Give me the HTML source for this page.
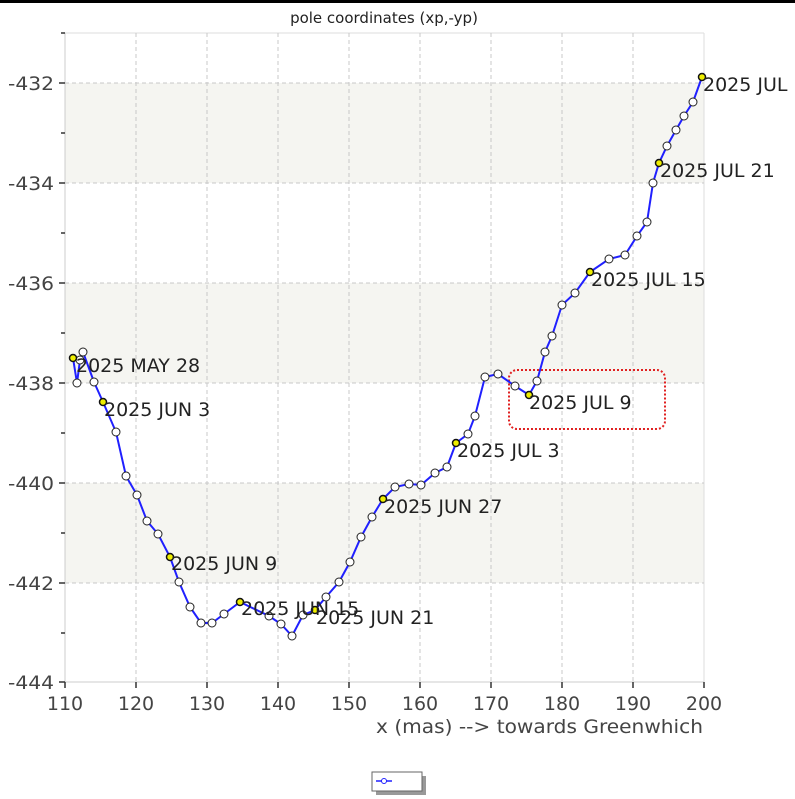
<!DOCTYPE html>
<html><head><meta charset="utf-8"><style>
html,body{margin:0;padding:0;background:#fff;}
svg{display:block;font-family:"DejaVu Sans","Liberation Sans",sans-serif;}
</style></head><body>
<svg width="795" height="799" viewBox="0 0 795 799" xmlns="http://www.w3.org/2000/svg">
<rect x="0" y="0" width="795" height="3" fill="#000"/>
<text x="384" y="23" font-size="15" text-anchor="middle" fill="#222">pole coordinates (xp,-yp)</text>
<rect x="65" y="83" width="639" height="100" fill="#f5f5f1"/>
<rect x="65" y="283" width="639" height="100" fill="#f5f5f1"/>
<rect x="65" y="483" width="639" height="100" fill="#f5f5f1"/>
<line x1="65" y1="33" x2="704" y2="33" stroke="#ddd"/>
<line x1="704" y1="33" x2="704" y2="682" stroke="#ddd"/>
<g stroke="#c8c8c8" stroke-dasharray="4,3" stroke-width="1">
<line x1="136" y1="33" x2="136" y2="682"/><line x1="207" y1="33" x2="207" y2="682"/>
<line x1="278" y1="33" x2="278" y2="682"/><line x1="349" y1="33" x2="349" y2="682"/>
<line x1="420" y1="33" x2="420" y2="682"/><line x1="491" y1="33" x2="491" y2="682"/>
<line x1="562" y1="33" x2="562" y2="682"/><line x1="633" y1="33" x2="633" y2="682"/>
<line x1="65" y1="83" x2="704" y2="83"/><line x1="65" y1="183" x2="704" y2="183"/>
<line x1="65" y1="283" x2="704" y2="283"/><line x1="65" y1="383" x2="704" y2="383"/>
<line x1="65" y1="483" x2="704" y2="483"/><line x1="65" y1="583" x2="704" y2="583"/>
</g>
<line x1="65" y1="33" x2="65" y2="682" stroke="#ccc"/>
<line x1="65" y1="682" x2="704" y2="682" stroke="#ccc"/>
<g stroke="#333" stroke-width="1.5">
<line x1="59" y1="83" x2="65" y2="83"/><line x1="59" y1="183" x2="65" y2="183"/><line x1="59" y1="283" x2="65" y2="283"/>
<line x1="59" y1="383" x2="65" y2="383"/><line x1="59" y1="483" x2="65" y2="483"/><line x1="59" y1="583" x2="65" y2="583"/><line x1="59" y1="682" x2="65" y2="682"/>
<line x1="61" y1="33" x2="65" y2="33"/><line x1="61" y1="133" x2="65" y2="133"/><line x1="61" y1="233" x2="65" y2="233"/><line x1="61" y1="333" x2="65" y2="333"/>
<line x1="61" y1="433" x2="65" y2="433"/><line x1="61" y1="533" x2="65" y2="533"/><line x1="61" y1="633" x2="65" y2="633"/>
<line x1="65" y1="682" x2="65" y2="688"/><line x1="136" y1="682" x2="136" y2="688"/><line x1="207" y1="682" x2="207" y2="688"/><line x1="278" y1="682" x2="278" y2="688"/>
<line x1="349" y1="682" x2="349" y2="688"/><line x1="420" y1="682" x2="420" y2="688"/><line x1="491" y1="682" x2="491" y2="688"/><line x1="562" y1="682" x2="562" y2="688"/>
<line x1="633" y1="682" x2="633" y2="688"/><line x1="704" y1="682" x2="704" y2="688"/>
</g>
<g font-size="19" fill="#444" text-anchor="end">
<text x="54" y="90" textLength="46" lengthAdjust="spacingAndGlyphs">-432</text><text x="54" y="190" textLength="46" lengthAdjust="spacingAndGlyphs">-434</text><text x="54" y="290" textLength="46" lengthAdjust="spacingAndGlyphs">-436</text>
<text x="54" y="390" textLength="46" lengthAdjust="spacingAndGlyphs">-438</text><text x="54" y="490" textLength="46" lengthAdjust="spacingAndGlyphs">-440</text><text x="54" y="590" textLength="46" lengthAdjust="spacingAndGlyphs">-442</text><text x="54" y="689" textLength="46" lengthAdjust="spacingAndGlyphs">-444</text>
</g>
<g font-size="19" fill="#444" text-anchor="middle">
<text x="65" y="710">110</text><text x="136" y="710">120</text><text x="207" y="710">130</text><text x="278" y="710">140</text>
<text x="349" y="710">150</text><text x="420" y="710">160</text><text x="491" y="710">170</text><text x="562" y="710">180</text>
<text x="633" y="710">190</text><text x="704" y="710">200</text>
</g>
<text x="376" y="733" font-size="19" fill="#444" textLength="327" lengthAdjust="spacingAndGlyphs">x (mas) --&gt; towards Greenwhich</text>
<rect x="509" y="370" width="156" height="59" rx="8" fill="none" stroke="#e02020" stroke-width="2" stroke-dasharray="2,2"/>
<polyline fill="none" stroke="#2020ff" stroke-width="2" points="73,358 77,383 80,360 83,352 94,382 103,402 116,432 126,476 137,495 147,521 158,534 170,557 179,582 190,607 201,623 212,623 224,614 240,602 269,616 281,624 292,636 303,615 315,610 326,597 339,582 350,562 361,537 372,517 383,499 395,487 409,484 421,485 435,473 447,467 456,443 468,434 475,416 485,377 498,374 515,386 529,395 537,381 545,352 552,336 562,305 575,293 590,272 609,259 625,255 637,236 647,222 653,183 659,163 667,146 676,130 684,116 693,102 702,77"/>
<g fill="#fff" stroke="#222" stroke-width="1">
<circle cx="77" cy="383" r="4"/><circle cx="80" cy="360" r="4"/><circle cx="83" cy="352" r="4"/><circle cx="94" cy="382" r="4"/>
<circle cx="116" cy="432" r="4"/><circle cx="126" cy="476" r="4"/><circle cx="137" cy="495" r="4"/><circle cx="147" cy="521" r="4"/><circle cx="158" cy="534" r="4"/>
<circle cx="179" cy="582" r="4"/><circle cx="190" cy="607" r="4"/><circle cx="201" cy="623" r="4"/><circle cx="212" cy="623" r="4"/><circle cx="224" cy="614" r="4"/>
<circle cx="269" cy="616" r="4"/><circle cx="281" cy="624" r="4"/><circle cx="292" cy="636" r="4"/><circle cx="303" cy="615" r="4"/>
<circle cx="326" cy="597" r="4"/><circle cx="339" cy="582" r="4"/><circle cx="350" cy="562" r="4"/><circle cx="361" cy="537" r="4"/><circle cx="372" cy="517" r="4"/>
<circle cx="395" cy="487" r="4"/><circle cx="409" cy="484" r="4"/><circle cx="421" cy="485" r="4"/><circle cx="435" cy="473" r="4"/><circle cx="447" cy="467" r="4"/>
<circle cx="468" cy="434" r="4"/><circle cx="475" cy="416" r="4"/><circle cx="485" cy="377" r="4"/><circle cx="498" cy="374" r="4"/><circle cx="515" cy="386" r="4"/>
<circle cx="537" cy="381" r="4"/><circle cx="545" cy="352" r="4"/><circle cx="552" cy="336" r="4"/><circle cx="562" cy="305" r="4"/><circle cx="575" cy="293" r="4"/>
<circle cx="609" cy="259" r="4"/><circle cx="625" cy="255" r="4"/><circle cx="637" cy="236" r="4"/><circle cx="647" cy="222" r="4"/><circle cx="653" cy="183" r="4"/>
<circle cx="667" cy="146" r="4"/><circle cx="676" cy="130" r="4"/><circle cx="684" cy="116" r="4"/><circle cx="693" cy="102" r="4"/>
</g>
<g fill="#ee0" stroke="#111" stroke-width="1.5">
<circle cx="73" cy="358" r="3.5"/><circle cx="103" cy="402" r="3.5"/><circle cx="170" cy="557" r="3.5"/><circle cx="240" cy="602" r="3.5"/>
<circle cx="315" cy="610" r="3.5"/><circle cx="383" cy="499" r="3.5"/><circle cx="456" cy="443" r="3.5"/><circle cx="529" cy="395" r="3.5"/>
<circle cx="590" cy="272" r="3.5"/><circle cx="659" cy="163" r="3.5"/><circle cx="702" cy="77" r="3.5"/>
</g>
<g font-size="19" fill="#222">
<text x="76" y="372">2025 MAY 28</text>
<text x="104" y="416">2025 JUN 3</text>
<text x="171" y="570">2025 JUN 9</text>
<text x="241" y="615">2025 JUN 15</text>
<text x="316" y="624">2025 JUN 21</text>
<text x="384" y="513">2025 JUN 27</text>
<text x="457" y="457">2025 JUL 3</text>
<text x="529" y="409">2025 JUL 9</text>
<text x="591" y="286">2025 JUL 15</text>
<text x="660" y="177">2025 JUL 21</text>
<text x="703" y="91">2025 JUL</text>
</g>
<rect x="376" y="776" width="50" height="19" fill="#999"/>
<rect x="372" y="772" width="50" height="19" fill="#fff" stroke="#666"/>
<line x1="376" y1="781" x2="392" y2="781" stroke="#2020ff" stroke-width="1.5"/>
<circle cx="384" cy="781" r="2.5" fill="#fff" stroke="#2020ff"/>
</svg>
</body></html>
